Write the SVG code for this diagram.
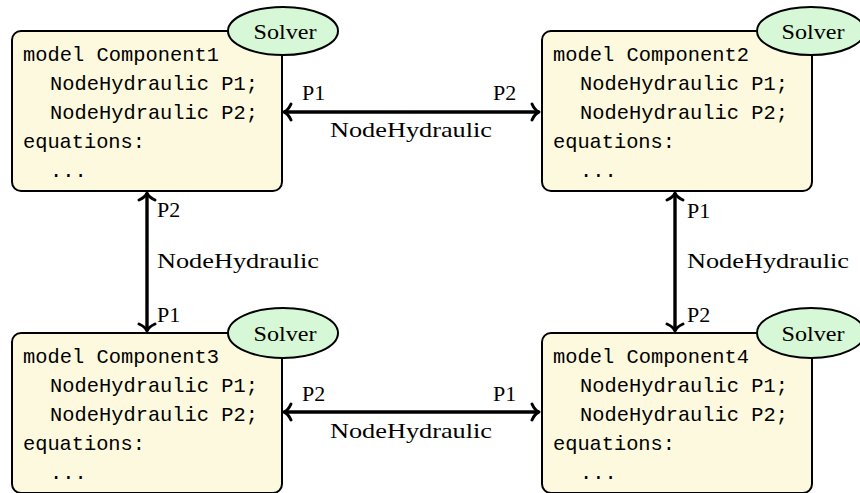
<svg xmlns="http://www.w3.org/2000/svg" width="860" height="493" viewBox="0 0 860 493">
  <defs>
    <marker id="tip" markerUnits="userSpaceOnUse" orient="auto-start-reverse" refX="0" refY="0" markerWidth="20" markerHeight="20" viewBox="-10 -10 20 20" overflow="visible">
      <path d="M-7,-8 C-5,-3.5 -2.5,-1 0,0 C-2.5,1 -5,3.5 -7,8" fill="none" stroke="#000" stroke-width="3" stroke-linecap="round" stroke-linejoin="round"/>
    </marker>
    <!-- shared pieces of one component block -->
    <rect id="box" x="0" y="0" width="270" height="160" rx="9" fill="#fdf9de" stroke="#000" stroke-width="2"/>
  </defs>

  <!-- connectors between the component ports -->
  <g id="connectors">
    <g stroke="#000" stroke-width="3.4" fill="none" marker-start="url(#tip)" marker-end="url(#tip)">
      <line x1="284" y1="112" x2="539" y2="112"/>
      <line x1="147" y1="193" x2="147" y2="331"/>
      <line x1="675" y1="193" x2="675" y2="331"/>
      <line x1="284" y1="412" x2="539" y2="412"/>
    </g>
    <g font-family="Liberation Serif, DejaVu Serif, serif" font-size="22" fill="#000">
      <text x="302" y="100">P1</text>
      <text x="493" y="100">P2</text>
      <text x="330" y="137" textLength="162" lengthAdjust="spacingAndGlyphs">NodeHydraulic</text>

      <text x="157" y="217">P2</text>
      <text x="157" y="268" textLength="162" lengthAdjust="spacingAndGlyphs">NodeHydraulic</text>
      <text x="157" y="322">P1</text>

      <text x="687" y="218">P1</text>
      <text x="687" y="268" textLength="162" lengthAdjust="spacingAndGlyphs">NodeHydraulic</text>
      <text x="687" y="322">P2</text>

      <text x="302" y="401">P2</text>
      <text x="493" y="401">P1</text>
      <text x="330" y="438" textLength="162" lengthAdjust="spacingAndGlyphs">NodeHydraulic</text>
    </g>
  </g>

  <g id="component1">
    <use href="#box" x="12" y="31"/>
    <g font-family="Liberation Mono, DejaVu Sans Mono, monospace" font-size="20.4" fill="#000">
      <text x="23" y="61" textLength="196">model Component1</text>
      <text x="50" y="90" textLength="208">NodeHydraulic P1;</text>
      <text x="50" y="119" textLength="208">NodeHydraulic P2;</text>
      <text x="23" y="148" textLength="122">equations:</text>
      <text x="50" y="177">...</text>
    </g>
    <ellipse cx="283" cy="31" rx="55" ry="24" fill="#d6f8d6" stroke="#000" stroke-width="2"/>
    <text x="285" y="39" text-anchor="middle" font-family="Liberation Serif, DejaVu Serif, serif" font-size="22" textLength="63" lengthAdjust="spacingAndGlyphs">Solver</text>
  </g>

  <g id="component2">
    <use href="#box" x="542" y="31"/>
    <g font-family="Liberation Mono, DejaVu Sans Mono, monospace" font-size="20.4" fill="#000">
      <text x="553" y="61" textLength="196">model Component2</text>
      <text x="580" y="90" textLength="208">NodeHydraulic P1;</text>
      <text x="580" y="119" textLength="208">NodeHydraulic P2;</text>
      <text x="553" y="148" textLength="122">equations:</text>
      <text x="580" y="177">...</text>
    </g>
    <ellipse cx="811" cy="31" rx="54" ry="24" fill="#d6f8d6" stroke="#000" stroke-width="2"/>
    <text x="813" y="39" text-anchor="middle" font-family="Liberation Serif, DejaVu Serif, serif" font-size="22" textLength="63" lengthAdjust="spacingAndGlyphs">Solver</text>
  </g>

  <g id="component3">
    <use href="#box" x="12" y="333"/>
    <g font-family="Liberation Mono, DejaVu Sans Mono, monospace" font-size="20.4" fill="#000">
      <text x="23" y="363" textLength="196">model Component3</text>
      <text x="50" y="392" textLength="208">NodeHydraulic P1;</text>
      <text x="50" y="421" textLength="208">NodeHydraulic P2;</text>
      <text x="23" y="450" textLength="122">equations:</text>
      <text x="50" y="479">...</text>
    </g>
    <ellipse cx="283" cy="333" rx="55" ry="25" fill="#d6f8d6" stroke="#000" stroke-width="2"/>
    <text x="285" y="341" text-anchor="middle" font-family="Liberation Serif, DejaVu Serif, serif" font-size="22" textLength="63" lengthAdjust="spacingAndGlyphs">Solver</text>
  </g>

  <g id="component4">
    <use href="#box" x="542" y="333"/>
    <g font-family="Liberation Mono, DejaVu Sans Mono, monospace" font-size="20.4" fill="#000">
      <text x="553" y="363" textLength="196">model Component4</text>
      <text x="580" y="392" textLength="208">NodeHydraulic P1;</text>
      <text x="580" y="421" textLength="208">NodeHydraulic P2;</text>
      <text x="553" y="450" textLength="122">equations:</text>
      <text x="580" y="479">...</text>
    </g>
    <ellipse cx="811" cy="333" rx="54" ry="25" fill="#d6f8d6" stroke="#000" stroke-width="2"/>
    <text x="813" y="341" text-anchor="middle" font-family="Liberation Serif, DejaVu Serif, serif" font-size="22" textLength="63" lengthAdjust="spacingAndGlyphs">Solver</text>
  </g>
</svg>
